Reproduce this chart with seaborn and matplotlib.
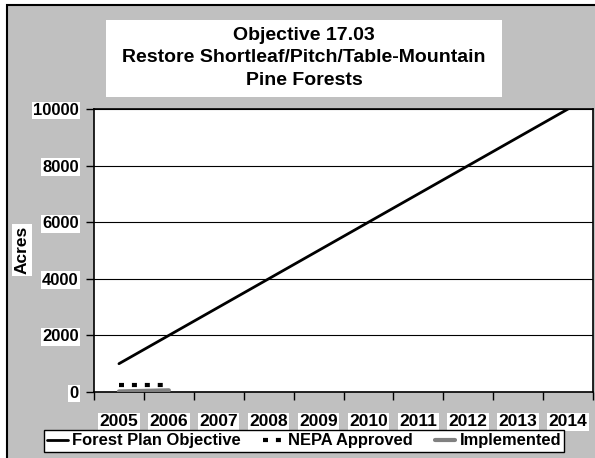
import matplotlib
matplotlib.use("Agg")
import matplotlib.pyplot as plt
from matplotlib.patches import Rectangle
from matplotlib.ticker import FixedLocator, NullFormatter, FixedFormatter
import seaborn as sns
import pandas as pd

years = ["2005", "2006", "2007", "2008", "2009", "2010", "2011", "2012", "2013", "2014"]
forest_plan = [1000, 2000, 3000, 4000, 5000, 6000, 7000, 8000, 9000, 10000]
nepa_years = ["2005", "2006"]
nepa_approved = [250, 250]
impl_years = ["2005", "2006"]
implemented = [20, 60]
yticks = [0, 2000, 4000, 6000, 8000, 10000]

title = "Objective 17.03\nRestore Shortleaf/Pitch/Table-Mountain\nPine Forests"

sns.set_theme(style="white")
plt.rcParams["font.family"] = ["Liberation Sans", "DejaVu Sans"]
plt.rcParams["font.weight"] = "bold"
plt.rcParams["text.color"] = "black"
plt.rcParams["xtick.color"] = "black"
plt.rcParams["ytick.color"] = "black"

W, H = 595, 458
fig = plt.figure(figsize=(W / 100, H / 100), dpi=100)
fig.patch.set_facecolor("white")

# gray chart area with black border (right/bottom edges lie outside the canvas)
fig.patches.append(Rectangle((7 / W, -0.2), 1.3, 1.2 - 5 / H, transform=fig.transFigure,
                             facecolor="#C0C0C0", edgecolor="black", linewidth=1.5, zorder=0))

ax = fig.add_axes([94 / W, (H - 392) / H, (593 - 94) / W, (392 - 109) / H])
ax.set_zorder(3)
ax.set_facecolor("white")

idx = {y: i for i, y in enumerate(years)}
df_fp = pd.DataFrame({"x": [idx[y] for y in years], "v": forest_plan})
df_ne = pd.DataFrame({"x": [idx[y] for y in nepa_years], "v": nepa_approved})
df_im = pd.DataFrame({"x": [idx[y] for y in impl_years], "v": implemented})

sns.lineplot(data=df_fp, x="x", y="v", ax=ax, color="black", linewidth=2,
             label="Forest Plan Objective", zorder=4)
sns.lineplot(data=df_ne, x="x", y="v", ax=ax, color="black", linewidth=3,
             label="NEPA Approved", zorder=4)
ax.lines[-1].set_dashes([1.2, 1.9])
sns.lineplot(data=df_im, x="x", y="v", ax=ax, color="#808080", linewidth=3,
             label="Implemented", zorder=4)

ax.set_xlim(-0.5, len(years) - 0.5)
ax.set_ylim(0, 10000)
ax.set_yticks(yticks)
ax.set_yticklabels([str(v) for v in yticks])
ax.yaxis.grid(True, color="black", linewidth=0.8)
ax.set_axisbelow(True)

ax.xaxis.set_major_locator(FixedLocator([i - 0.5 for i in range(len(years) + 1)]))
ax.xaxis.set_major_formatter(NullFormatter())
ax.xaxis.set_minor_locator(FixedLocator(list(range(len(years)))))
ax.xaxis.set_minor_formatter(FixedFormatter(years))
ax.tick_params(axis="x", which="major", direction="out", length=6, width=1, color="black", bottom=True)
ax.tick_params(axis="x", which="minor", length=0, pad=16, labelsize=12.5, labelcolor="black")
ax.tick_params(axis="y", direction="out", length=6, width=1, color="black", left=True, pad=5,
               labelsize=12, labelcolor="black")

for sp in ax.spines.values():
    sp.set_color("black")
    sp.set_linewidth(1.2)

ax.set_xlabel("")
ax.set_ylabel("")

for lab in ax.get_yticklabels() + ax.xaxis.get_minorticklabels():
    lab.set_fontweight("bold")
    lab.set_bbox(dict(facecolor="white", edgecolor="none", pad=1))

fig.text(22 / W, (H - 250) / H, "Acres", rotation=90, ha="center", va="center",
         fontsize=12.5, fontweight="bold", color="black",
         bbox=dict(facecolor="white", edgecolor="none", pad=1.5))

# title box
fig.patches.append(Rectangle((106 / W, (H - 97) / H), (502 - 106) / W, (97 - 20) / H,
                             transform=fig.transFigure, facecolor="white", edgecolor="none", zorder=1))
fig.text(304 / W, (H - 58) / H, title, ha="center", va="center", fontsize=14.0,
         fontweight="bold", linespacing=1.4, color="black", zorder=2)

ax.get_legend().remove()
handles, labels = ax.get_legend_handles_labels()
leg = fig.legend(handles, labels, loc="center", bbox_to_anchor=(304 / W, (H - 441) / H),
                 ncol=3, frameon=True, fancybox=False, edgecolor="black", facecolor="white",
                 framealpha=1, handlelength=1.25, handletextpad=0.25,
                 columnspacing=1.35, borderpad=0.2, prop={"weight": "bold", "size": 11.9})
leg.get_frame().set_linewidth(1.0)
for t in leg.get_texts():
    t.set_color("black")

fig.savefig("out.png", dpi=100)
